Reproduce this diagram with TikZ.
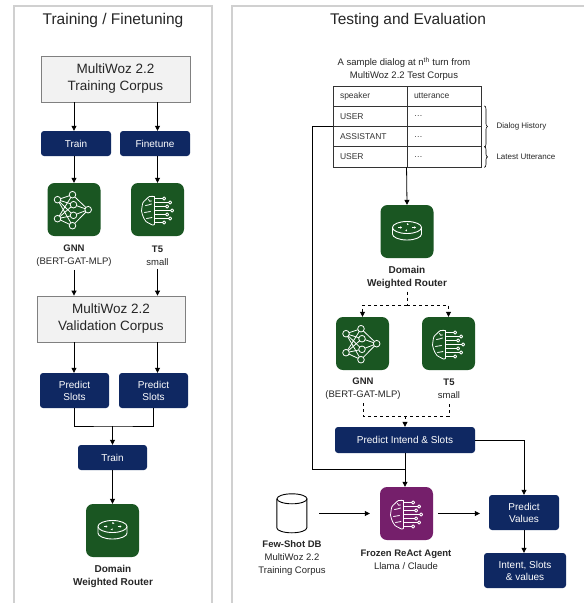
\documentclass[tikz,border=0pt]{standalone}
\usepackage{fontspec}
\setmainfont{Liberation Sans}
\usetikzlibrary{arrows.meta,decorations.pathreplacing}

\definecolor{navy}{HTML}{0F2862}
\definecolor{leaf}{HTML}{1A5622}
\definecolor{plum}{HTML}{751F6B}
\definecolor{frame}{HTML}{D0D0D0}

\tikzset{
  nnicon/.pic={
    \begin{scope}[white,line width=0.8pt]
      \foreach \ax/\ay in {-16.5/-9.8,-16.5/9.2}
        \foreach \bx/\by in {-1.5/-14.8,-0.5/-4.8,-0.5/5.8,-1.5/16.2}
          \draw (\ax,\ay) -- (\bx,\by);
      \foreach \bx/\by in {-1.5/-14.8,-0.5/-4.8,-0.5/5.8,-1.5/16.2}
        \draw (\bx,\by) -- (14.2,0.2);
      \foreach \cx/\cy in {-16.5/-9.8,-16.5/9.2,-1.5/-14.8,-0.5/-4.8,-0.5/5.8,-1.5/16.2,14.2/0.2}
        \draw[fill=leaf] (\cx,\cy) circle (3.3);
    \end{scope}
  },
  brainicon/.pic={
    \begin{scope}[white,line width=0.8pt,line join=round,line cap=round]
      \draw plot[smooth] coordinates {(-3,-13) (-8,-13) (-11.5,-10) (-14.5,-7) (-15.5,-2.5)
        (-16,1.5) (-15,5.5) (-13.5,9) (-11.5,12) (-8,14) (-5,15.5) (-3,15)} -- cycle;
      \draw (-12,-4) .. controls (-10,-6) and (-8,-3) .. (-6,-5.5);
      \draw (-13,3) .. controls (-11,1) and (-9,4) .. (-7,2);
      \draw (-11,9) .. controls (-9,7) and (-7,10) .. (-5.5,8);
      \draw (-9,-10) .. controls (-8,-8) .. (-6,-8.5);
      \foreach \y/\e in {-11/5,-7/11,-3/8,1/13,5/8,9/11,13/5}
      {
        \draw (-3,\y) -- (\e,\y);
        \draw (\e+1.6,\y) circle (1.6);
      }
    \end{scope}
  },
  routericon/.pic={
    \begin{scope}[white,line width=0.9pt]
      \draw (0,-4) ellipse [x radius=14.5, y radius=6];
      \draw (-14.5,-4) -- (-14.5,2.5) arc[start angle=180, end angle=0, x radius=14.5, y radius=6] -- (14.5,-4);
      \begin{scope}[line width=0.6pt,-{Stealth[length=1.8pt,width=2.4pt]}]
        \draw (-9,-4) -- (-5,-4);
        \draw (5,-4) -- (9,-4);
        \draw (1,-8) -- (0,-6.5);
        \draw (-1,-1.5) -- (0,-0.2);
      \end{scope}
    \end{scope}
  }
}

\begin{document}
\begin{tikzpicture}[x=1pt,y=-1pt,
    panel/.style={draw=frame,line width=1.5pt},
    title/.style={font=\fontsize{15.5}{18}\selectfont,text=black!85},
    corpus/.style={draw=black!50,fill=black!5,line width=0.8pt,minimum width=149,
      minimum height=46,align=center,font=\fontsize{13.5}{17}\selectfont,text=black!85},
    stepbox/.style={fill=navy,rounded corners=3pt,text=white,align=center,
      font=\fontsize{10}{12}\selectfont},
    iconbox/.style={fill=#1,rounded corners=7pt,minimum size=53,inner sep=0pt},
    iconbox/.default=leaf,
    lbl/.style={align=center,font=\fontsize{9.5}{13}\selectfont,text=black!85},
    lblbold/.style={lbl,font=\fontsize{10}{13}\selectfont\bfseries},
    cell/.style={draw=black!80,line width=0.9pt,minimum width=74,minimum height=20.25,
      text width=60,inner xsep=7,inner ysep=0pt,align=left,
      font=\fontsize{8.5}{10}\selectfont,text=black!80},
    note/.style={font=\fontsize{8}{10}\selectfont,text=black!85,anchor=west},
    link/.style={-{Triangle[length=5pt,width=5pt]},line width=0.8pt},
    dashlink/.style={link,dashed},
  ]

  \path[fill=white] (0,0) rectangle (584,603);
  \useasboundingbox (0,0) rectangle (584,603);

  % training / finetuning
  \draw[panel] (14,603) -- (14,6) -- (212,6) -- (212,603);
  \node[title] (ttlA) at (113,20) {Training / Finetuning};

  \node[corpus] (trc) at (115.5,79) {MultiWoz 2.2\\Training Corpus};
  \node[stepbox,minimum width=70,minimum height=25] (trn) at (76,143.5) {Train};
  \node[stepbox,minimum width=70,minimum height=25] (fnt) at (155,143.5) {Finetune};
  \node[iconbox] (gnnA) at (74,209.5) {};
  \node[iconbox] (tfA) at (157.5,209.5) {};
  \pic at (gnnA) {nnicon};
  \pic at (tfA) {brainicon};
  \node[lbl] (gnnAl) at (74,255.5) {\textbf{GNN}\\(BERT-GAT-MLP)};
  \node[lbl] (tfAl) at (157.5,255.5) {\textbf{T5}\\small};
  \node[corpus,minimum width=148] (vac) at (111,319) {MultiWoz 2.2\\Validation Corpus};
  \node[stepbox,minimum width=69,minimum height=35] (psA) at (74.5,390.5) {Predict\\Slots};
  \node[stepbox,minimum width=69,minimum height=35] (psB) at (153.5,390.5) {Predict\\Slots};
  \coordinate (mrg) at (112.5,426);
  \node[stepbox,minimum width=69,minimum height=25] (trnB) at (112.5,457.5) {Train};
  \node[iconbox] (rtA) at (112.5,530.5) {};
  \pic at (rtA) {routericon};
  \node[lblbold] (rtAl) at (113,576.5) {Domain\\Weighted Router};

  \draw[link] (trc.south -| gnnA) -- (trn.north -| gnnA);
  \draw[link] (trc.south -| tfA) -- (fnt.north -| tfA);
  \draw[link] (trn.south -| gnnA) -- (gnnA.north);
  \draw[link] (fnt.south -| tfA) -- (tfA.north);
  \draw[link] (gnnAl.south) -- (gnnAl.south |- vac.north);
  \draw[link] (tfAl.south) -- (tfAl.south |- vac.north);
  \draw[link] (vac.south -| gnnA) -- (psA.north -| gnnA);
  \draw[link] (vac.south -| tfA) -- (psB.north -| tfA);
  \draw[line width=0.8pt] (psA.south) |- (mrg) -| (psB.south);
  \draw[link] (mrg) -- (trnB.north);
  \draw[link] (trnB.south) -- (rtA.north);

  % testing and evaluation
  \draw[panel] (232,603) -- (232,6) -- (584,6);
  \node[title] (ttlB) at (408,20) {Testing and Evaluation};

  \node[lbl] (smp) at (404,69) {A sample dialog at n\textsuperscript{th} turn from\\MultiWoz 2.2 Test Corpus};
  \foreach \r/\a/\b in {1/speaker/utterance,2/USER/\ldots,3/ASSISTANT/\ldots,4/USER/\ldots}
  {
    \node[cell] (tab-\r-1) at (370,{86+20.25*(\r-0.5)}) {\a};
    \node[cell] (tab-\r-2) at (444,{86+20.25*(\r-0.5)}) {\b};
  }
  \draw[decorate,decoration={brace,amplitude=3pt},line width=0.6pt]
    ([xshift=3pt]tab-2-2.north east) -- ([xshift=3pt]tab-3-2.south east);
  \draw[decorate,decoration={brace,amplitude=3pt},line width=0.6pt]
    ([xshift=3pt]tab-4-2.north east) -- ([xshift=3pt]tab-4-2.south east);
  \node[note] (dhs) at (493,126.5) {Dialog History};
  \node[note] (lut) at (493,157) {Latest Utterance};

  \node[iconbox] (rtB) at (407,231.5) {};
  \pic at (rtB) {routericon};
  \node[lblbold] (rtBl) at (407,277) {Domain\\Weighted Router};
  \coordinate (spl) at (407,305);
  \node[iconbox] (gnnB) at (362.5,343.5) {};
  \node[iconbox] (tfB) at (448.5,343.5) {};
  \pic at (gnnB) {nnicon};
  \pic at (tfB) {brainicon};
  \node[lbl] (gnnBl) at (363,389) {\textbf{GNN}\\(BERT-GAT-MLP)};
  \node[lbl] (tfBl) at (449,389) {\textbf{T5}\\small};
  \coordinate (jn) at (405,416);
  \node[stepbox,minimum width=140,minimum height=26] (pis) at (405,440) {Predict Intend \& Slots};
  \coordinate (hst) at (312,469);
  \node[iconbox=plum] (rct) at (406.5,513.5) {};
  \pic at (rct) {brainicon};
  \node[lbl] (rctl) at (406,559.5) {\textbf{Frozen ReAct Agent}\\Llama / Claude};
  \node[minimum width=30,minimum height=39,inner sep=0pt] (db) at (292,513.5) {};
  \draw[line width=0.9pt] (db.north) ++(0,5) ellipse [x radius=15, y radius=5];
  \draw[line width=0.9pt] (db.north west) ++(0,5) -- ++(0,29)
    arc[start angle=180, end angle=0, x radius=15, y radius=5] -- ++(0,-29);
  \node[lbl] (dbl) at (292,558) {\textbf{Few-Shot DB}\\MultiWoz 2.2\\Training Corpus};
  \node[stepbox,minimum width=70,minimum height=35] (pvl) at (524,512.5) {Predict\\Values};
  \node[stepbox,minimum width=82,minimum height=35] (ivs) at (525,570.5) {Intent, Slots\\\& values};

  \draw[link] (tab-4-2.south west) -- (rtB.north);
  \draw[dashed,line width=0.8pt] (rtBl.south) -- (spl);
  \draw[dashlink] (spl) -| (gnnB.north);
  \draw[dashlink] (spl) -| (tfB.north);
  \draw[dashed,line width=0.8pt] (gnnBl.south) |- (tfBl.south |- jn) -- (tfBl.south);
  \draw[dashlink] (jn) -- (pis.north);
  \draw[link] (pis.south) -- (pis.south |- rct.north);
  \draw[line width=0.8pt] (tab-3-1.north west) -| (hst) -- (hst -| pis.south);
  \draw[link] (pis.east) -| (pvl.north);
  \draw[link,shorten <=12pt,shorten >=10pt] (db.east) -- (rct.west);
  \draw[link,shorten <=5pt,shorten >=9pt] (rct.east) -- (rct.east -| pvl.west);
  \draw[link] (pvl.south) -- (pvl.south |- ivs.north);

\end{tikzpicture}
\end{document}
